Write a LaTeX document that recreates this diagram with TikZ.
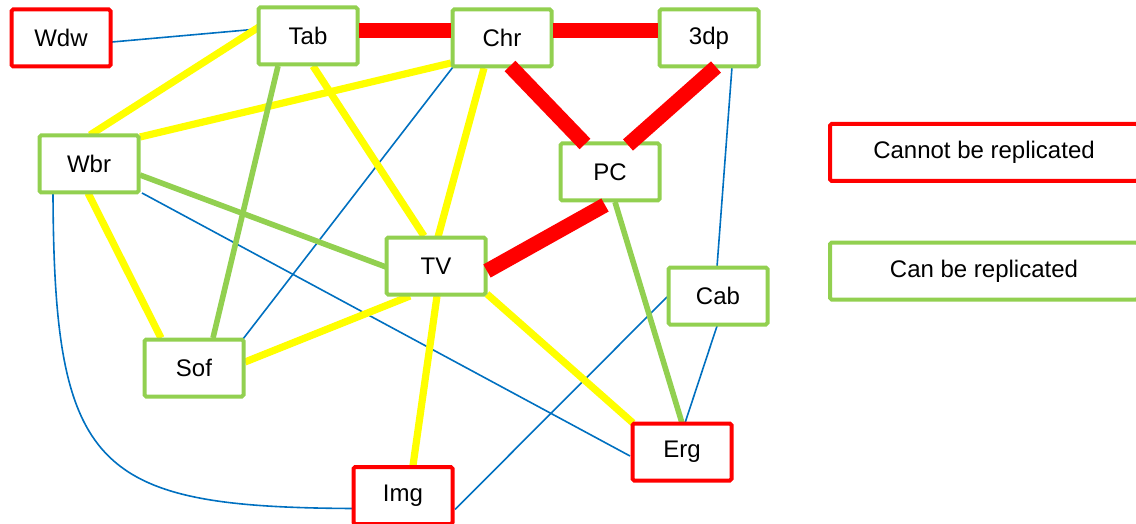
\documentclass[tikz,border=0pt]{standalone}
\usepackage{fontspec}
\setmainfont{Liberation Sans}
\usetikzlibrary{backgrounds}
\definecolor{okgreen}{RGB}{146,208,80}
\definecolor{linkblue}{RGB}{0,112,192}
\definecolor{hardred}{RGB}{255,0,0}
\definecolor{softyellow}{RGB}{255,255,0}
\tikzset{
  x=0.5pt, y=-0.5pt,
  box/.style={draw, line width=2pt, fill=white, minimum width=49.5pt,
    minimum height=28.5pt, inner sep=0pt, rounded corners=0.8pt,
    font=\fontsize{12}{14}\selectfont},
  fixed/.style={box, draw=hardred},
  movable/.style={box, draw=okgreen},
  thinlink/.style={draw=linkblue, line width=0.8pt},
  yellowlink/.style={draw=softyellow, line width=3.6pt},
  greenlink/.style={draw=okgreen, line width=2.8pt},
  redlink/.style={draw=hardred, line width=7.5pt},
}
\newcommand{\at}[3]{([shift={(#2,#3)}]#1.center)}
\begin{document}
\begin{tikzpicture}
\useasboundingbox (0,0) rectangle (1136,524);

% items
\node[fixed]   (Wdw) at (61,38)  {Wdw};
\node[movable] (Tab) at (308,36) {Tab};
\node[movable] (Chr) at (502,38) {Chr};
\node[movable] (Tdp) at (709,38) {3dp};
\node[movable] (Wbr) at (89,164) {Wbr};
\node[movable] (PC)  at (610,172) {PC};
\node[movable] (TV)  at (436,266) {TV};
\node[movable] (Cab) at (718,296) {Cab};
\node[movable] (Sof) at (194,368) {Sof};
\node[fixed]   (Erg) at (682,452) {Erg};
\node[fixed]   (Img) at (403,495.5) {Img};

% key
\node[fixed, minimum width=154pt]   (KeyNo)  at (984,152.5) {Cannot be replicated};
\node[movable, minimum width=154pt] (KeyYes) at (984,271) {Can be replicated};

\begin{scope}[on background layer]
  % weak links
  \draw[thinlink] \at{Wdw}{51}{4} -- \at{Tab}{-50}{-7};
  \draw[thinlink] \at{Chr}{-49}{29} -- \at{Sof}{49}{-29};
  \draw[thinlink] \at{Tdp}{23}{29} -- \at{Cab}{-1}{-29};
  \draw[thinlink] \at{Wbr}{53}{29} -- \at{Erg}{-52}{4};
  \draw[thinlink] \at{Cab}{-51}{1} -- \at{Img}{52}{14};
  \draw[thinlink] \at{Cab}{-1}{30} -- \at{Erg}{3}{-29};
  \draw[thinlink] \at{Wbr}{-36}{29} .. controls (54,470) and (95,507) .. \at{Img}{-51}{13};

  % medium links
  \draw[yellowlink] \at{Tab}{-49}{-9} -- \at{Wbr}{1}{-29};
  \draw[yellowlink] \at{Chr}{-51}{25} -- \at{Wbr}{51}{-27};
  \draw[yellowlink] \at{Tab}{5}{30} -- \at{TV}{-12}{-30};
  \draw[yellowlink] \at{Chr}{-18}{30} -- \at{TV}{2}{-29};
  \draw[yellowlink] \at{Wbr}{-1}{29} -- \at{Sof}{-33}{-30};
  \draw[yellowlink] \at{TV}{-26}{30} -- \at{Sof}{51}{-6};
  \draw[yellowlink] \at{TV}{1}{30} -- \at{Img}{10}{-30};
  \draw[yellowlink] \at{TV}{51}{28} -- \at{Erg}{-49}{-29};

  % replicable links
  \draw[greenlink] \at{Tab}{-30}{30} -- \at{Sof}{19}{-30};
  \draw[greenlink] \at{Wbr}{51}{11} -- \at{TV}{-50}{1};
  \draw[greenlink] \at{PC}{5}{30} -- \at{Erg}{0}{-29};
\end{scope}

% strong links
\draw[redlink] \at{Tab}{51}{-5} -- \at{Chr}{-51}{-7};
\draw[redlink] \at{Chr}{51}{-7} -- \at{Tdp}{-51}{-7};
\draw[redlink] \at{Chr}{8}{28} -- \at{PC}{-25}{-28};
\draw[redlink] \at{Tdp}{7}{29} -- \at{PC}{18}{-27};
\draw[redlink] \at{TV}{51}{5} -- \at{PC}{-5}{33};
\end{tikzpicture}
\end{document}
